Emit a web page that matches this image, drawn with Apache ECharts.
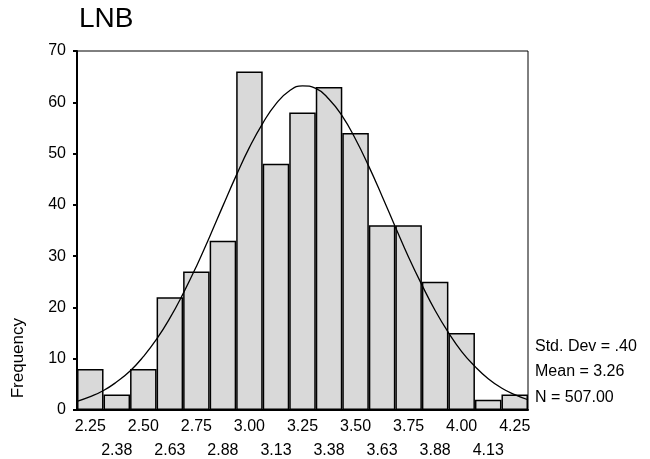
<!DOCTYPE html>
<html>
<head>
<meta charset="utf-8">
<script src="https://cdn.jsdelivr.net/npm/echarts@6/dist/echarts.min.js"></script>
<style>
html,body{margin:0;padding:0;background:#fff;}
#chart{width:650px;height:459px;}
</style>
</head>
<body>
<div id="chart"></div>
<script>
// Histogram bins (centres) and frequencies
const categories = ['2.25','2.38','2.50','2.63','2.75','2.88','3.00','3.13','3.25','3.38','3.50','3.63','3.75','3.88','4.00','4.13','4.25'];
const frequencies = [8,3,8,22,27,33,66,48,58,63,54,36,36,25,15,2,3];
// Fitted normal curve
const curveX = [2.1875,2.25,2.3125,2.375,2.4375,2.5,2.5625,2.625,2.6875,2.75,2.8125,2.875,2.9375,3.0,3.0625,3.125,3.1875,3.25,3.3125,3.375,3.4375,3.5,3.5625,3.625,3.6875,3.75,3.8125,3.875,3.9375,4.0,4.0625,4.125,4.1875,4.25,4.3125];
const curveY = [1.7,2.6,3.8,5.5,7.6,10.4,13.8,17.9,22.7,28.0,33.8,39.8,45.7,51.2,55.9,59.7,62.2,63.2,62.7,60.6,57.3,52.8,47.5,41.7,35.7,29.8,24.4,19.4,15.1,11.4,8.5,6.1,4.3,3.0,2.0];
const yMin = 0, yMax = 70, yStep = 10;
const xMin = 2.1875, xMax = 4.3125;
const titleText = 'LNB';
const yName = 'Frequency';
const statsLines = ['Std. Dev = .40', 'Mean = 3.26', 'N = 507.00'];

const FONT = '"Liberation Sans", Arial, sans-serif';
const chart = echarts.init(document.getElementById('chart'), null, {renderer: 'canvas'});

const curveData = curveX.map((x, i) => [x, curveY[i]]);

chart.setOption({
  animation: false,
  backgroundColor: '#fff',
  title: {
    text: titleText, left: 74, top: 0,
    textStyle: {fontFamily: FONT, fontSize: 28, fontWeight: 'normal', color: '#000'}
  },
  grid: {left: 77, top: 51, right: 122, bottom: 49, show: true, borderColor: '#000', borderWidth: 1, backgroundColor: 'transparent'},
  xAxis: [
    {
      type: 'category', data: categories, position: 'bottom', boundaryGap: true,
      axisLine: {lineStyle: {color: '#000', width: 2}},
      axisTick: {alignWithLabel: true, length: 3, lineStyle: {color: '#000', width: 2}},
      axisLabel: {interval: (i) => i % 2 === 0, color: '#000', fontFamily: FONT, fontSize: 16, margin: 9},
      splitLine: {show: false}, z: 5
    },
    {
      type: 'category', data: categories, position: 'bottom', boundaryGap: true,
      axisLine: {show: false}, axisTick: {show: false},
      axisLabel: {interval: (i) => i % 2 === 1, color: '#000', fontFamily: FONT, fontSize: 16, margin: 33},
      splitLine: {show: false}
    },
    {
      type: 'value', min: xMin, max: xMax, show: false
    }
  ],
  yAxis: {
    type: 'value', min: yMin, max: yMax, interval: yStep,
    axisLine: {show: true, lineStyle: {color: '#000', width: 2}},
    axisTick: {show: true, length: 4, lineStyle: {color: '#000', width: 2}},
    axisLabel: {color: '#000', fontFamily: FONT, fontSize: 16, margin: 11},
    splitLine: {show: false}, z: 5
  },
  graphic: [
    {type: 'text', left: 10, top: 318, rotation: Math.PI / 2,
     style: {text: yName, font: '17px ' + FONT, fill: '#000'}},
    ...statsLines.map((t, i) => ({
      type: 'text', left: 535, top: [339, 364, 390][i],
      style: {text: t, font: '16px ' + FONT, fill: '#000'}
    }))
  ],
  series: [
    {
      type: 'bar', xAxisIndex: 0, data: frequencies, barCategoryGap: '0%',
      itemStyle: {color: '#d9d9d9', borderColor: '#000', borderWidth: 1.5}
    },
    {
      type: 'line', xAxisIndex: 2, data: curveData, smooth: true, showSymbol: false,
      lineStyle: {color: '#000', width: 1.3}, z: 10
    }
  ]
});
</script>
</body>
</html>
